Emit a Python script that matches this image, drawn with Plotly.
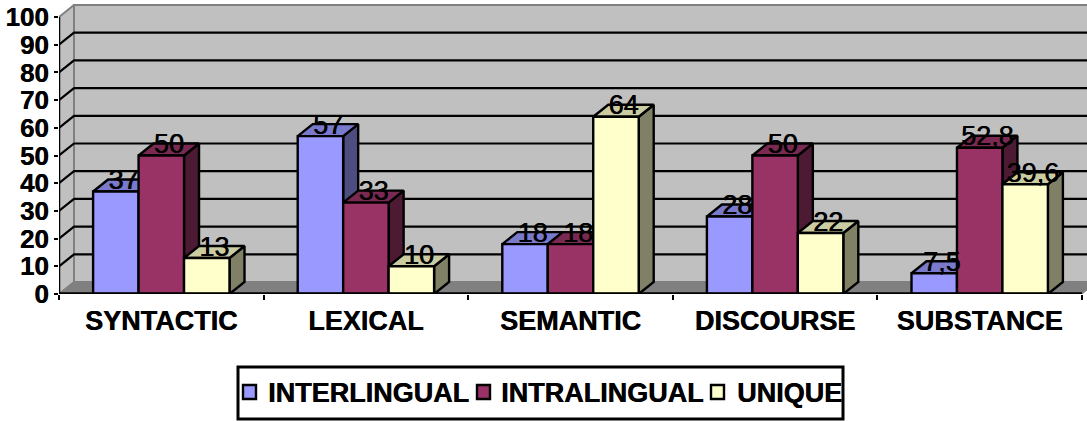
import plotly.graph_objects as go

categories = ["SYNTACTIC", "LEXICAL", "SEMANTIC", "DISCOURSE", "SUBSTANCE"]
interlingual = [37, 57, 18, 28, 7.5]
intralingual = [50, 33, 18, 50, 52.8]
unique = [13, 10, 64, 22, 39.6]
y_ticks = list(range(0, 101, 10))

series = [
    ("INTERLINGUAL", interlingual, "#9999FF", "#7A7ACC", "#4D4D80"),
    ("INTRALINGUAL", intralingual, "#993366", "#7A2952", "#4D1A33"),
    ("UNIQUE", unique, "#FFFFCC", "#CCCCA3", "#808066"),
]

W, H = 1087, 421
L, B = 59, 127
CAT_PX = 204.6
UNIT_PX = 2.77
DX = 15 / CAT_PX
DY = 12 / UNIT_PX
x_max = (W - L) / CAT_PX
y_max = (H - B) / UNIT_PX
BAR_W = (1 - 1 / 3) / 3
FONT = "Liberation Sans, Arial, sans-serif"
HEAVY = "0.4px 0 0 #000000"

fig = go.Figure()


def poly(xs, ys, fill, line="#000000", lw=2.4, axes=("x", "y")):
    fig.add_trace(go.Scatter(
        x=xs + xs[:1], y=ys + ys[:1], mode="lines", fill="toself", fillcolor=fill,
        line=dict(color=line, width=lw), showlegend=False, hoverinfo="skip",
        xaxis=axes[0], yaxis=axes[1]))


def seg(xs, ys, color, lw, axes=("x", "y")):
    fig.add_trace(go.Scatter(
        x=xs, y=ys, mode="lines", line=dict(color=color, width=lw),
        showlegend=False, hoverinfo="skip", xaxis=axes[0], yaxis=axes[1]))


n = len(categories)
GREY = "#808080"
# walls and floor
poly([DX, n + DX, n + DX, DX], [DY, DY, 100 + DY, 100 + DY], "#C0C0C0", GREY, 2)
poly([0, DX, DX, 0], [0, DY, 100 + DY, 100], "#C0C0C0", GREY, 2)
poly([0, n, n + DX, DX], [0, 0, DY, DY], GREY, GREY, 1)
# gridlines
for v in y_ticks[1:-1]:
    seg([0, DX, n + DX], [v, v + DY, v + DY], "#000000", 2.2)

# depth faces of each bar
for i in range(n):
    for j, (_, vals, _, top, side) in enumerate(series):
        x0 = i + 0.5 + (j - 1.5) * BAR_W
        x1 = x0 + BAR_W
        v = vals[i]
        poly([x1, x1 + DX, x1 + DX, x1], [0, DY, v + DY, v], side)
        poly([x0, x1, x1 + DX, x0 + DX], [v, v, v + DY, v + DY], top)

# front faces
centers = [i + 0.5 for i in range(n)]
for name, vals, front, _, _ in series:
    fig.add_trace(go.Bar(
        x=centers, y=vals, name=name,
        marker=dict(color=front, line=dict(color="#000000", width=2.4)),
        xaxis="x2", yaxis="y2", hoverinfo="skip", showlegend=False))

# front axes
seg([0, 0], [0, 100], "#000000", 2.5, ("x2", "y2"))
seg([0, n], [0, 0], "#000000", 3.4, ("x2", "y2"))

# data labels
for j, (_, vals, _, _, _) in enumerate(series):
    fig.add_trace(go.Scatter(
        x=[i + 0.5 + (j - 1) * BAR_W + DX / 2 for i in range(n)],
        y=[v + DY * 0.75 for v in vals],
        text=[str(v).replace(".", ",") for v in vals],
        mode="text", textposition="middle center",
        textfont=dict(family=FONT, size=27, color="#000000", shadow="0.6px 0 0 #000000"),
        showlegend=False, hoverinfo="skip", xaxis="x2", yaxis="y2"))

# legend box, built to the reference's tight spacing
shapes = [dict(type="rect", xref="paper", yref="paper",
               x0=(238 - L) / (W - L), x1=(843 - L) / (W - L),
               y0=(H - B - 419) / (H - B), y1=(H - B - 367) / (H - B),
               line=dict(color="#000000", width=3), fillcolor="#FFFFFF")]
annotations = []
swatch_px = [243, 477, 711]
text_px = [268, 501, 737]
for (name, _, front, _, _), sx, tx in zip(series, swatch_px, text_px):
    shapes.append(dict(type="rect", xref="paper", yref="paper",
                       x0=(sx - L) / (W - L), x1=(sx + 13 - L) / (W - L),
                       y0=(H - B - 399) / (H - B), y1=(H - B - 385) / (H - B),
                       line=dict(color="#000000", width=2.4), fillcolor=front))
    annotations.append(dict(text=name, xref="paper", yref="paper", showarrow=False,
                            x=(tx - L) / (W - L), y=(H - B - 393) / (H - B),
                            xanchor="left", yanchor="middle", borderpad=0, borderwidth=0,
                            font=dict(family=FONT, size=27, color="#000000", weight="bold", shadow=HEAVY)))

fig.update_layout(
    width=W, height=H, margin=dict(l=L, r=0, t=0, b=B, pad=0),
    paper_bgcolor="#FFFFFF", plot_bgcolor="rgba(0,0,0,0)",
    barmode="group", bargap=1 / 3, bargroupgap=0, showlegend=False,
    font=dict(family=FONT, color="#000000"),
    shapes=shapes, annotations=annotations,
    xaxis=dict(range=[0, x_max], tickvals=centers, ticktext=categories, ticks="",
               showgrid=False, zeroline=False, showline=False,
               tickfont=dict(family=FONT, size=27, color="#000000", weight="bold", shadow=HEAVY),
               ticklabelstandoff=8,
               minor=dict(tickmode="array", tickvals=list(range(n + 1)), ticks="outside",
                          ticklen=5, tickwidth=2, tickcolor="#000000", showgrid=False)),
    yaxis=dict(range=[0, y_max], tickvals=y_ticks, ticks="outside", ticklen=4, tickwidth=2,
               tickcolor="#000000", showgrid=False, zeroline=False, showline=False,
               tickfont=dict(family=FONT, size=26, color="#000000", weight="bold", shadow=HEAVY)),
    xaxis2=dict(range=[0, x_max], overlaying="x", visible=False),
    yaxis2=dict(range=[0, y_max], overlaying="y", visible=False),
)

fig.write_html("out.html", config=dict(displayModeBar=False),
               post_script="document.body.style.margin='0';")
